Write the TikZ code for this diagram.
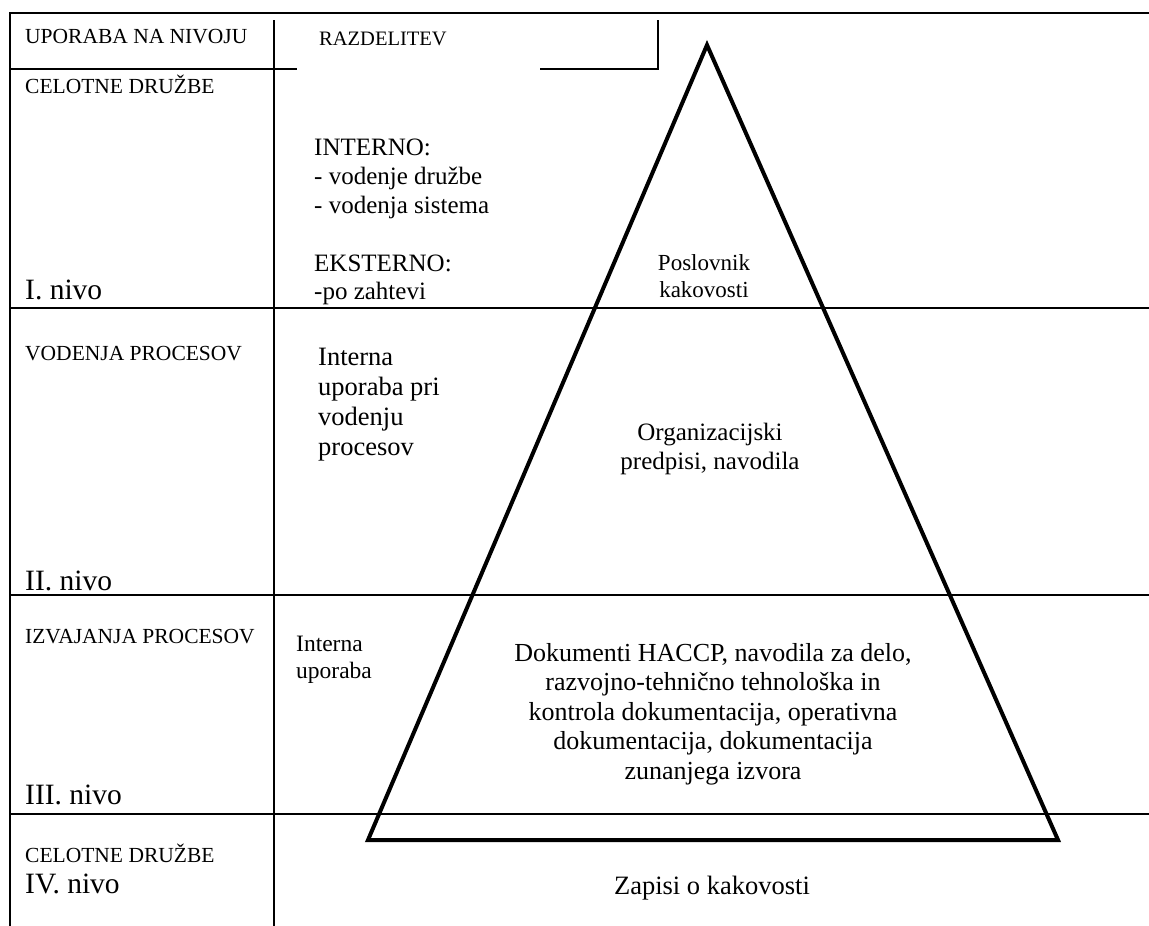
\documentclass[tikz,border=0pt]{standalone}
\usepackage{fontspec}
\setmainfont{Liberation Serif}
\begin{document}
\begin{tikzpicture}[x=1pt,y=-1pt,
  rule/.style={line width=2pt,black},
  pyr/.style={line width=4pt,black,line join=miter},
  lab/.style={anchor=base west,inner sep=0pt,font=\fontsize{21.5}{25}\selectfont},
  lvl/.style={anchor=base west,inner sep=0pt,font=\fontsize{29.5}{34}\selectfont},
  txt/.style={anchor=base west,inner sep=0pt,font=\fontsize{25}{29}\selectfont},
  blk/.style={anchor=base,align=center,inner sep=0pt}]
\useasboundingbox (0,0) rectangle (1149,926);

% table rules
\draw[rule] (9,13) -- (1149,13);
\draw[rule] (10,13) -- (10,926);
\draw[rule] (274,20) -- (274,926);
\draw[rule] (9,69) -- (297,69);
\draw[rule] (540,69) -- (658,69) -- (658,20);
\draw[rule] (9,308) -- (1149,308);
\draw[rule] (9,595) -- (1149,595);
\draw[rule] (9,814) -- (1149,814);

% pyramid
\coordinate (apex) at (707,45);
\coordinate (bl) at (368,840);
\coordinate (br) at (1058,840);
\draw[pyr] (apex) -- (bl) -- (br) -- cycle;

% left column
\node[lab] (use) at (25,43) {UPORABA NA NIVOJU};
\node[lab] (cel1) at (25,93) {CELOTNE DRUŽBE};
\node[lvl] (n1) at (25,299) {I. nivo};
\node[lab] (vod) at (25,360) {VODENJA PROCESOV};
\node[lvl] (n2) at (25,590) {II. nivo};
\node[lab] (izv) at (25,643) {IZVAJANJA PROCESOV};
\node[lvl] (n3) at (25,804) {III. nivo};
\node[lab] (cel2) at (25,862) {CELOTNE DRUŽBE};
\node[lvl] (n4) at (25,893) {IV. nivo};

% distribution column
\node[lab,font=\fontsize{20.5}{25}\selectfont] (raz) at (319,45) {RAZDELITEV};
\node[txt] (int) at (314,155) {INTERNO:};
\node[txt] (int1) at (314,184) {- vodenje družbe};
\node[txt] (int2) at (314,213) {- vodenja sistema};
\node[txt] (eks) at (314,271) {EKSTERNO:};
\node[txt] (eks1) at (314,299) {-po zahtevi};
% base anchor of a multi-line node sits on its last line
\node[anchor=base west,inner sep=0pt,align=left,font=\fontsize{26.5}{30}\selectfont]
  (intp) at (318,455) {Interna\\uporaba pri\\vodenju\\procesov};
\node[anchor=base west,inner sep=0pt,align=left,font=\fontsize{23.5}{27}\selectfont]
  (intu) at (296,678) {Interna\\uporaba};

% pyramid contents
\node[blk,font=\fontsize{23}{26.5}\selectfont] (posl) at (704,297) {Poslovnik\\kakovosti};
\node[blk,font=\fontsize{25}{29}\selectfont] (org) at (710,469) {Organizacijski\\predpisi, navodila};
\node[blk,font=\fontsize{26}{29.5}\selectfont] (dok) at (713,779) {Dokumenti HACCP, navodila za delo,\\razvojno-tehnično tehnološka in\\kontrola dokumentacija, operativna\\dokumentacija, dokumentacija\\zunanjega izvora};
\node[blk,font=\fontsize{26.5}{30}\selectfont] (zap) at (712,894) {Zapisi o kakovosti};
\end{tikzpicture}
\end{document}
